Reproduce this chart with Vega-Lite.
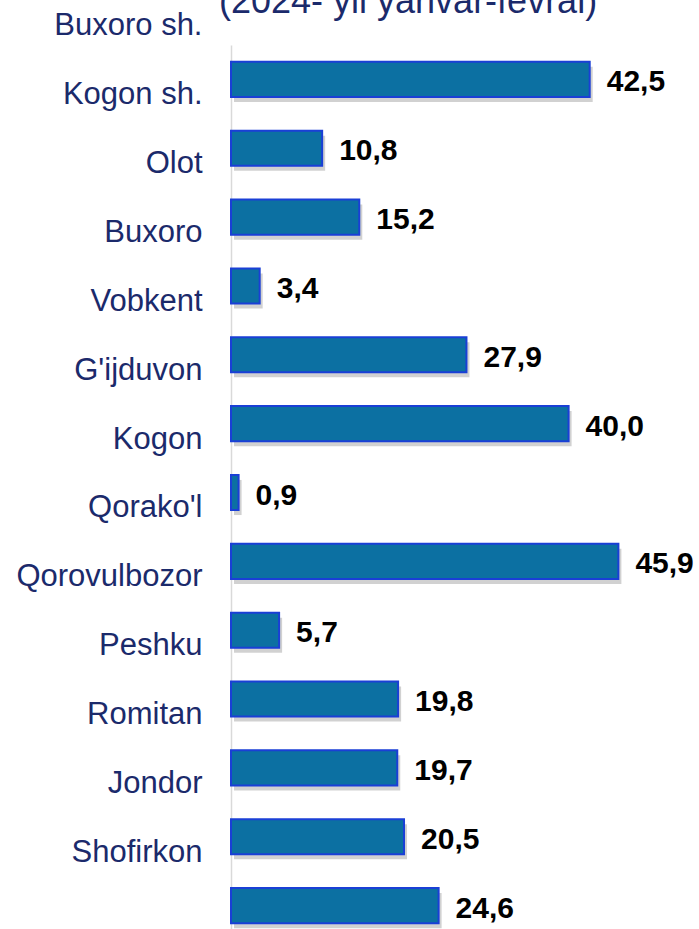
{
  "$schema": "https://vega.github.io/schema/vega-lite/v6.json",
  "autosize": "none",
  "width": 422,
  "height": 895,
  "padding": {"left": 231, "top": 45, "right": 46, "bottom": 0},
  "background": "white",
  "config": {"view": {"stroke": null}, "font": "Liberation Sans"},
  "title": {
    "text": "(2024- yil yanvar-fevral)",
    "fontSize": 36,
    "fontWeight": "normal",
    "color": "#1B2A6B",
    "anchor": "start",
    "frame": "group",
    "dx": -12,
    "offset": 0,
    "baseline": "alphabetic",
    "dy": 39
  },
  "data": {
    "values": [
      {"region": "Buxoro sh.", "value": 42.5, "label": "42,5"},
      {"region": "Kogon sh.", "value": 10.8, "label": "10,8"},
      {"region": "Olot", "value": 15.2, "label": "15,2"},
      {"region": "Buxoro", "value": 3.4, "label": "3,4"},
      {"region": "Vobkent", "value": 27.9, "label": "27,9"},
      {"region": "G'ijduvon", "value": 40.0, "label": "40,0"},
      {"region": "Kogon", "value": 0.9, "label": "0,9"},
      {"region": "Qorako'l", "value": 45.9, "label": "45,9"},
      {"region": "Qorovulbozor", "value": 5.7, "label": "5,7"},
      {"region": "Peshku", "value": 19.8, "label": "19,8"},
      {"region": "Romitan", "value": 19.7, "label": "19,7"},
      {"region": "Jondor", "value": 20.5, "label": "20,5"},
      {"region": "Shofirkon", "value": 24.6, "label": "24,6"}
    ]
  },
  "encoding": {
    "y": {
      "field": "region",
      "type": "nominal",
      "sort": null,
      "scale": {"paddingInner": 0.49, "paddingOuter": 0.245},
      "axis": {
        "title": null,
        "ticks": false,
        "domainColor": "#D9D9D9",
        "domainWidth": 1.5,
        "labelFontSize": 31,
        "labelColor": "#1B2A6B",
        "labelPadding": 29,
        "labelOffset": -53,
        "labelLimit": 300
      }
    },
    "x": {
      "field": "value",
      "type": "quantitative",
      "scale": {"domain": [0, 50], "nice": false},
      "axis": null
    }
  },
  "layer": [
    {
      "mark": {"type": "bar", "color": "#000000", "opacity": 0.18, "xOffset": 3, "yOffset": 5}
    },
    {
      "mark": {"type": "bar", "fill": "#0C70A2", "stroke": "#1A3FD6", "strokeWidth": 2}
    },
    {
      "mark": {"type": "text", "align": "left", "baseline": "middle", "dx": 17, "dy": 3, "fontSize": 30, "fontWeight": "bold", "color": "#000000"},
      "encoding": {"text": {"field": "label"}}
    }
  ]
}
